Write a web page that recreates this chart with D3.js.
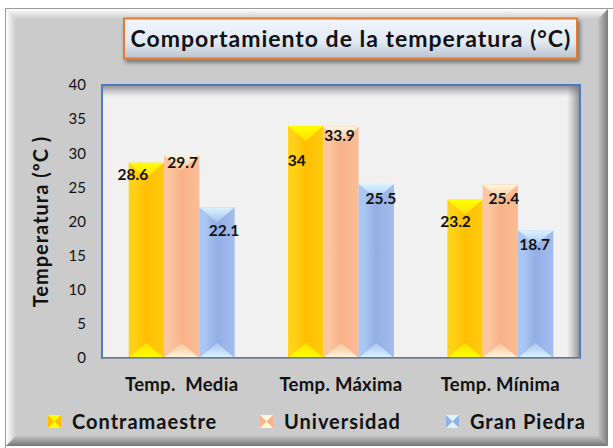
<!DOCTYPE html>
<html>
<head>
<meta charset="utf-8">
<script src="https://cdn.jsdelivr.net/npm/d3@7"></script>
<style>
  body { margin: 0; background: #fff; }
  text { font-family: Lato, "Open Sans", sans-serif; }
</style>
</head>
<body>
<div id="chart"></div>
<script>
'use strict';

// values
var categories = ['Temp.  Media', 'Temp. Máxima', 'Temp. Mínima'];
var seriesNames = ['Contramaestre', 'Universidad', 'Gran Piedra'];
var contramaestre = [28.6, 34, 23.2];
var universidad = [29.7, 33.9, 25.4];
var granPiedra = [22.1, 25.5, 18.7];
var yTicks = [0, 5, 10, 15, 20, 25, 30, 35, 40];

var seriesValues = [contramaestre, universidad, granPiedra];

// look of each series: body gradient stops + light tip colour
var styles = [
  { left: '#ffd21a', mid: '#ffbf00', right: '#ffcb10', tip: '#ffff00', tipEnd: '#ffe000' },
  { left: '#fcc6a0', mid: '#f8b388', right: '#fbbd96', tip: '#fff6dc', tipEnd: '#f9c29a' },
  { left: '#aac6f2', mid: '#93afe3', right: '#a3bdee', tip: '#dcf4ff', tipEnd: '#a6c4f0' }
];

// hand-placed data labels (dx from bar centre, dy from bar top)
var labelNudge = [
  [[-13.5, 12], [-9, 35], [-9.5, 22]],
  [[1, 7], [-1.5, 9], [3.5, 14]],
  [[7, 23], [4.5, 15], [-1, 14]]
];

var width = 613, height = 448;
var plot = { left: 102, right: 580, top: 85, bottom: 358 };

var svg = d3.select('#chart').append('svg')
  .attr('width', width)
  .attr('height', height);

var defs = svg.append('defs');

function linGrad(id, x2, y2, stops) {
  var g = defs.append('linearGradient').attr('id', id)
    .attr('x1', 0).attr('y1', 0).attr('x2', x2).attr('y2', y2);
  stops.forEach(function(s) {
    g.append('stop').attr('offset', s[0]).attr('stop-color', s[1])
      .attr('stop-opacity', s[2] == null ? 1 : s[2]);
  });
}

linGrad('bevTop', 0, 1, [[0, '#ffffff'], [1, '#cbcbcb']]);
linGrad('bevLeft', 1, 0, [[0, '#ffffff'], [1, '#cbcbcb']]);
linGrad('bevRight', 1, 0, [[0, '#c4c4c4'], [1, '#7c7c7c']]);
linGrad('bevBottom', 0, 1, [[0, '#c4c4c4'], [1, '#747474']]);
linGrad('shTop', 0, 1, [[0, '#6a6a6a', 0.75], [1, '#8a8a8a', 0]]);
linGrad('shRight', 1, 0, [[0, '#8a8a8a', 0], [1, '#6a6a6a', 0.75]]);
linGrad('titleFill', 0, 1, [[0, '#f2f6fd'], [0.6, '#e1e9f5'], [1, '#b9c1cd']]);

styles.forEach(function(s, i) {
  linGrad('body' + i, 1, 0, [[0, s.left], [0.15, s.left], [0.5, s.mid], [1, s.right]]);
  linGrad('tipTop' + i, 0, 1, [[0, s.tip], [1, s.tipEnd]]);
  linGrad('tipBot' + i, 0, 1, [[0, s.tipEnd], [1, s.tip]]);
});

var shadow = defs.append('filter').attr('id', 'drop')
  .attr('x', '-10%').attr('y', '-30%').attr('width', '130%').attr('height', '180%');
shadow.append('feDropShadow').attr('dx', 2).attr('dy', 3).attr('stdDeviation', 2)
  .attr('flood-color', '#000').attr('flood-opacity', 0.45);

// outer frame with bevel
svg.append('rect').attr('x', 5.5).attr('y', 8.5).attr('width', 620).attr('height', 450)
  .attr('fill', 'none').attr('stroke', '#9a9a9a');
svg.append('rect').attr('x', 6).attr('y', 9).attr('width', 602).attr('height', 437)
  .attr('fill', '#cbcbcb');
var b = 10, x0 = 6, y0 = 9, x1 = 608, y1 = 446;
svg.append('polygon').attr('fill', 'url(#bevTop)')
  .attr('points', [[x0, y0], [x1, y0], [x1 - b, y0 + b], [x0 + b, y0 + b]].join(' '));
svg.append('polygon').attr('fill', 'url(#bevLeft)')
  .attr('points', [[x0, y0], [x0 + b, y0 + b], [x0 + b, y1 - b], [x0, y1]].join(' '));
svg.append('polygon').attr('fill', 'url(#bevRight)')
  .attr('points', [[x1, y0], [x1, y1], [x1 - b, y1 - b], [x1 - b, y0 + b]].join(' '));
svg.append('polygon').attr('fill', 'url(#bevBottom)')
  .attr('points', [[x0, y1], [x1, y1], [x1 - b, y1 - b], [x0 + b, y1 - b]].join(' '));

// title box
svg.append('rect').attr('x', 124).attr('y', 18.5).attr('width', 453).attr('height', 40)
  .attr('fill', 'url(#titleFill)').attr('stroke', '#e8792a').attr('stroke-width', 2)
  .attr('filter', 'url(#drop)');
svg.append('text').attr('x', 351).attr('y', 47)
  .attr('text-anchor', 'middle')
  .attr('font-size', 23).attr('font-weight', 'bold').attr('fill', '#111')
  .attr('letter-spacing', 1)
  .text('Comportamiento de la temperatura (°C)');

// scales
var x = d3.scaleBand().domain(categories)
  .range([plot.left, plot.right]).paddingInner(0.335).paddingOuter(0.1675);
var xs = d3.scaleBand().domain(seriesNames).range([0, x.bandwidth()]);
var y = d3.scaleLinear().domain([0, 40]).range([plot.bottom, plot.top]);

// plot area
svg.append('rect').attr('x', plot.left).attr('y', plot.top)
  .attr('width', plot.right - plot.left).attr('height', plot.bottom - plot.top)
  .attr('fill', '#f1f1f1');
svg.append('rect').attr('x', plot.left).attr('y', plot.top)
  .attr('width', plot.right - plot.left).attr('height', 12).attr('fill', 'url(#shTop)');
svg.append('rect').attr('x', plot.right - 13).attr('y', plot.top)
  .attr('width', 13).attr('height', plot.bottom - plot.top).attr('fill', 'url(#shRight)');

// bars
var depth = 15;
seriesNames.forEach(function(name, si) {
  var g = svg.append('g');
  var bars = g.selectAll('g').data(categories).enter().append('g')
    .attr('transform', function(c) { return 'translate(' + (x(c) + xs(name)) + ',0)'; });
  var w = xs.bandwidth();
  bars.append('rect')
    .attr('y', function(c, i) { return y(seriesValues[si][i]); })
    .attr('width', w)
    .attr('height', function(c, i) { return y(0) - y(seriesValues[si][i]); })
    .attr('fill', 'url(#body' + si + ')');
  bars.append('path').attr('fill', 'url(#tipTop' + si + ')')
    .attr('d', function(c, i) {
      var t = y(seriesValues[si][i]);
      return 'M0,' + t + 'L' + w + ',' + t + 'L' + (w / 2) + ',' + (t + depth) + 'Z';
    });
  bars.append('path').attr('fill', 'url(#tipBot' + si + ')')
    .attr('d', 'M0,' + y(0) + 'L' + w + ',' + y(0) + 'L' + (w / 2) + ',' + (y(0) - depth) + 'Z');
  bars.append('text')
    .attr('x', function(c, i) { return w / 2 + labelNudge[si][i][0]; })
    .attr('y', function(c, i) { return y(seriesValues[si][i]) + labelNudge[si][i][1]; })
    .attr('dy', '0.35em')
    .attr('text-anchor', 'middle')
    .attr('font-size', 15.5).attr('font-weight', 'bold').attr('fill', '#111')
    .text(function(c, i) { return seriesValues[si][i]; });
});

// plot border
svg.append('rect').attr('x', plot.left).attr('y', plot.top)
  .attr('width', plot.right - plot.left).attr('height', plot.bottom - plot.top)
  .attr('fill', 'none').attr('stroke', '#4f79c6').attr('stroke-width', 2);
svg.append('line').attr('x1', plot.left).attr('x2', plot.right)
  .attr('y1', plot.bottom + 0.5).attr('y2', plot.bottom + 0.5)
  .attr('stroke', '#8a94a6').attr('stroke-width', 1);

// y axis
var yAxis = svg.append('g').attr('transform', 'translate(' + (plot.left - 10) + ',0)')
  .call(d3.axisLeft(y).tickValues(yTicks).tickSize(0).tickPadding(6));
yAxis.select('.domain').remove();
yAxis.selectAll('text').attr('font-size', 15).attr('fill', '#111')
  .style('font-family', 'Lato, sans-serif');

svg.append('text')
  .attr('transform', 'translate(48,' + ((plot.top + plot.bottom) / 2) + ') rotate(-90)')
  .attr('text-anchor', 'middle')
  .attr('font-size', 20).attr('font-weight', 'bold').attr('fill', '#111')
  .attr('letter-spacing', 1)
  .text('Temperatura (ºC )');

// x axis labels
var xAxis = svg.append('g').attr('transform', 'translate(0,' + plot.bottom + ')')
  .call(d3.axisBottom(x).tickSize(0).tickPadding(20));
xAxis.select('.domain').remove();
xAxis.selectAll('text').attr('font-size', 18.5).attr('font-weight', 'bold').attr('fill', '#111')
  .attr('letter-spacing', 0.3)
  .style('font-family', 'Lato, sans-serif').style('white-space', 'pre');

// legend
var legendX = [48, 260, 446];
var legend = svg.selectAll('.legend').data(seriesNames).enter().append('g')
  .attr('class', 'legend')
  .attr('transform', function(d, i) { return 'translate(' + legendX[i] + ',415)'; });
legend.append('rect').attr('width', 13).attr('height', 13)
  .attr('fill', function(d, i) { return styles[i].mid; });
legend.append('path').attr('d', 'M0,0L13,0L6.5,6.5Z')
  .attr('fill', function(d, i) { return styles[i].tip; });
legend.append('path').attr('d', 'M0,13L13,13L6.5,6.5Z')
  .attr('fill', function(d, i) { return styles[i].tip; });
legend.append('text').attr('x', 24).attr('y', 7).attr('dy', '0.35em')
  .attr('font-size', 20).attr('font-weight', 'bold').attr('fill', '#111')
  .attr('letter-spacing', 1)
  .text(function(d) { return d; });
</script>
</body>
</html>
